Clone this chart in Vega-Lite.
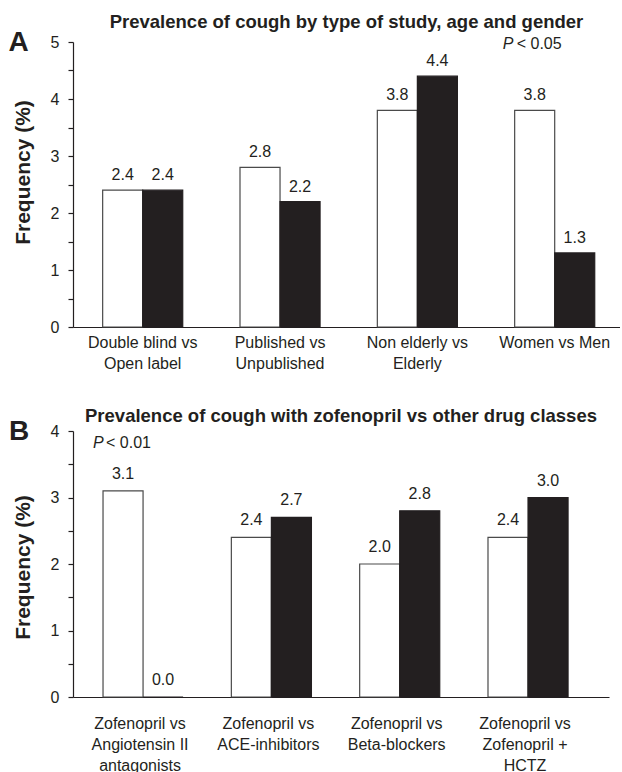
{
  "$schema": "https://vega.github.io/schema/vega-lite/v6.json",
  "background": "white",
  "padding": {"left": 8, "top": 12, "right": 0, "bottom": 0},
  "spacing": 35,
  "config": {
    "font": "Liberation Sans",
    "view": {"stroke": null},
    "axis": {
      "grid": false,
      "domainColor": "#231f20",
      "tickColor": "#231f20",
      "labelColor": "#231f20",
      "titleColor": "#231f20",
      "labelFont": "Liberation Sans",
      "titleFont": "Liberation Sans",
      "labelFontSize": 16,
      "domainWidth": 1.2,
      "tickWidth": 1.2
    },
    "title": {"font": "Liberation Sans", "fontSize": 18.5, "fontWeight": "bold", "color": "#231f20", "anchor": "middle"}
  },
  "datasets": {
    "barsA": [
      {"group": "Double blind vs\nOpen label", "series": "first", "value": 2.4},
      {"group": "Double blind vs\nOpen label", "series": "second", "value": 2.4},
      {"group": "Published vs\nUnpublished", "series": "first", "value": 2.8},
      {"group": "Published vs\nUnpublished", "series": "second", "value": 2.2},
      {"group": "Non elderly vs\nElderly", "series": "first", "value": 3.8},
      {"group": "Non elderly vs\nElderly", "series": "second", "value": 4.4},
      {"group": "Women vs Men", "series": "first", "value": 3.8},
      {"group": "Women vs Men", "series": "second", "value": 1.3}
    ],
    "barsB": [
      {"group": "Zofenopril vs\nAngiotensin II\nantagonists", "series": "first", "value": 3.1},
      {"group": "Zofenopril vs\nAngiotensin II\nantagonists", "series": "second", "value": 0.0},
      {"group": "Zofenopril vs\nACE-inhibitors", "series": "first", "value": 2.4},
      {"group": "Zofenopril vs\nACE-inhibitors", "series": "second", "value": 2.7},
      {"group": "Zofenopril vs\nBeta-blockers", "series": "first", "value": 2.0},
      {"group": "Zofenopril vs\nBeta-blockers", "series": "second", "value": 2.8},
      {"group": "Zofenopril vs\nZofenopril +\nHCTZ", "series": "first", "value": 2.4},
      {"group": "Zofenopril vs\nZofenopril +\nHCTZ", "series": "second", "value": 3.0}
    ]
  },
  "vconcat": [
    {
      "width": 547,
      "height": 285,
      "title": {"text": "Prevalence of cough by type of study, age and gender", "offset": -2},
      "encoding": {
        "x": {
          "field": "group", "type": "nominal", "sort": null,
          "scale": {"paddingInner": 0.417, "paddingOuter": 0.2, "align": 0.54},
          "axis": {"title": null, "labelAngle": 0, "ticks": false, "labelPadding": 7, "labelLineHeight": 21, "labelExpr": "split(datum.label, '\\n')"}
        },
        "y": {
          "field": "value", "type": "quantitative",
          "scale": {"domain": [0, 5], "nice": false},
          "axis": {
            "title": "Frequency (%)", "titleFontSize": 21, "titleFontWeight": "bold",
            "titleX": -50, "titleY": 130, "titleBaseline": "middle", "titleAlign": "center", "titleAngle": -90,
            "values": [0, 0.5, 1, 1.5, 2, 2.5, 3, 3.5, 4, 4.5, 5],
            "labelExpr": "datum.value % 1 === 0 ? format(datum.value, 'd') : ''",
            "tickSize": 5, "labelPadding": 9
          }
        }
      },
      "layer": [
        {
          "data": {"name": "barsA"},
          "mark": {"type": "bar", "strokeWidth": 1.2},
          "encoding": {
            "xOffset": {"field": "series", "type": "nominal", "sort": ["first", "second"]},
            "fill": {"field": "series", "type": "nominal", "scale": {"domain": ["first", "second"], "range": ["#ffffff", "#231f20"]}, "legend": null},
            "stroke": {"field": "series", "type": "nominal", "scale": {"domain": ["first", "second"], "range": ["#4a4a4a", "#231f20"]}, "legend": null}
          }
        },
        {
          "data": {"name": "barsA"},
          "mark": {"type": "text", "fontSize": 16, "baseline": "middle", "dy": -15, "color": "#231f20"},
          "encoding": {
            "xOffset": {"field": "series", "type": "nominal", "sort": ["first", "second"]},
            "text": {"field": "value", "type": "quantitative", "format": ".1f"}
          }
        },
        {
          "data": {"values": [{"group": "Double blind vs\nOpen label", "value": 5, "txt": "A"}]},
          "mark": {"type": "text", "fontSize": 28, "fontWeight": "bold", "baseline": "middle", "align": "center", "dx": -124, "dy": 1, "color": "#231f20"},
          "encoding": {"text": {"field": "txt"}}
        },
        {
          "data": {"values": [{"group": "Women vs Men", "value": 5, "txt": "P"}]},
          "mark": {"type": "text", "fontSize": 16, "fontStyle": "italic", "baseline": "middle", "align": "left", "dx": -52, "dy": 2, "color": "#231f20"},
          "encoding": {"text": {"field": "txt"}}
        },
        {
          "data": {"values": [{"group": "Women vs Men", "value": 5, "txt": "< 0.05"}]},
          "mark": {"type": "text", "fontSize": 16, "baseline": "middle", "align": "left", "dx": -38, "dy": 2, "color": "#231f20"},
          "encoding": {"text": {"field": "txt"}}
        }
      ]
    },
    {
      "width": 536,
      "height": 266,
      "title": {"text": "Prevalence of cough with zofenopril vs other drug classes", "offset": -7},
      "encoding": {
        "x": {
          "field": "group", "type": "nominal", "sort": null,
          "scale": {"paddingInner": 0.423, "paddingOuter": 0.3, "align": 0.39},
          "axis": {"title": null, "labelAngle": 0, "ticks": false, "labelPadding": 18, "labelLineHeight": 21, "labelExpr": "split(datum.label, '\\n')"}
        },
        "y": {
          "field": "value", "type": "quantitative",
          "scale": {"domain": [0, 4], "nice": false},
          "axis": {
            "title": "Frequency (%)", "titleFontSize": 21, "titleFontWeight": "bold",
            "titleX": -50, "titleY": 136, "titleBaseline": "middle", "titleAlign": "center", "titleAngle": -90,
            "values": [0, 0.5, 1, 1.5, 2, 2.5, 3, 3.5, 4],
            "labelExpr": "datum.value % 1 === 0 ? format(datum.value, 'd') : ''",
            "tickSize": 5, "labelPadding": 9
          }
        }
      },
      "layer": [
        {
          "data": {"name": "barsB"},
          "mark": {"type": "bar", "strokeWidth": 1.2},
          "encoding": {
            "xOffset": {"field": "series", "type": "nominal", "sort": ["first", "second"]},
            "fill": {"field": "series", "type": "nominal", "scale": {"domain": ["first", "second"], "range": ["#ffffff", "#231f20"]}, "legend": null},
            "stroke": {"field": "series", "type": "nominal", "scale": {"domain": ["first", "second"], "range": ["#4a4a4a", "#231f20"]}, "legend": null}
          }
        },
        {
          "data": {"name": "barsB"},
          "mark": {"type": "text", "fontSize": 16, "baseline": "middle", "dy": -17, "color": "#231f20"},
          "encoding": {
            "xOffset": {"field": "series", "type": "nominal", "sort": ["first", "second"]},
            "text": {"field": "value", "type": "quantitative", "format": ".1f"}
          }
        },
        {
          "data": {"values": [{"group": "Zofenopril vs\nAngiotensin II\nantagonists", "value": 4, "txt": "B"}]},
          "mark": {"type": "text", "fontSize": 28, "fontWeight": "bold", "baseline": "middle", "align": "center", "dx": -121, "dy": 1, "color": "#231f20"},
          "encoding": {"text": {"field": "txt"}}
        },
        {
          "data": {"values": [{"group": "Zofenopril vs\nAngiotensin II\nantagonists", "value": 4, "txt": "P"}]},
          "mark": {"type": "text", "fontSize": 16, "fontStyle": "italic", "baseline": "middle", "align": "left", "dx": -47, "dy": 12, "color": "#231f20"},
          "encoding": {"text": {"field": "txt"}}
        },
        {
          "data": {"values": [{"group": "Zofenopril vs\nAngiotensin II\nantagonists", "value": 4, "txt": "< 0.01"}]},
          "mark": {"type": "text", "fontSize": 16, "baseline": "middle", "align": "left", "dx": -34, "dy": 12, "color": "#231f20"},
          "encoding": {"text": {"field": "txt"}}
        }
      ]
    }
  ]
}
